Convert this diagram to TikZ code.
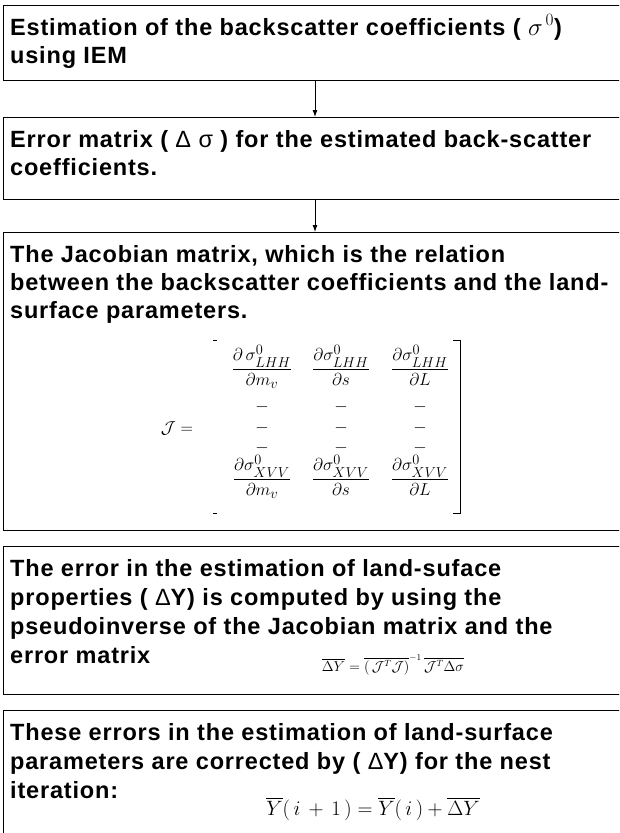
\documentclass[tikz,border=0pt]{standalone}
\usepackage{amsmath}
\usepackage{fontspec}
\setmainfont[LetterSpace=3.5]{Liberation Sans}
\usetikzlibrary{arrows.meta}
\begin{document}
\begin{tikzpicture}[x=1pt,y=-1pt,
  box/.style={draw=black, line width=1.1pt, rectangle, inner sep=0pt, anchor=north west, minimum width=640pt},
  txt/.style={anchor=base west, inner sep=0pt, font=\fontsize{23.5}{28}\selectfont\bfseries},
  arr/.style={-{Latex[length=7pt,width=5pt]}, line width=0.9pt},
  ent/.style={inner sep=0pt, font=\fontsize{19}{21}\selectfont},
  frm/.style={inner sep=0pt, anchor=base}]
\useasboundingbox (0,0) rectangle (619,833);
\clip (0,0) rectangle (619,833);
% boxes
\node[box, minimum height=75pt] (b1) at (3,5) {};
\node[box, minimum height=82pt] (b2) at (3,117) {};
\node[box, minimum height=298pt] (b3) at (3,232) {};
\node[box, minimum height=148pt] (b4) at (3,546) {};
\node[box, minimum height=150pt] (b5) at (3,710) {};
% arrows
\coordinate (ax) at (315,0);
\draw[arr] (b1.south -| ax) -- (b2.north -| ax);
\draw[arr] (b2.south -| ax) -- (b3.north -| ax);
% box 1
\node[txt] (t1a) at (10,35) {Estimation of the backscatter coefficients ( $\sigma^{\,0}$)};
\node[txt] (t1b) at (10,63) {using IEM};
% box 2
\node[txt] (t2a) at (10,147) {Error matrix ( {\mdseries Δ σ} ) for the estimated back-scatter};
\node[txt] (t2b) at (10,175) {coefficients.};
% box 3
\node[txt] (t3a) at (10,262) {The Jacobian matrix, which is the relation};
\node[txt] (t3b) at (10,290) {between the backscatter coefficients and the land-};
\node[txt] (t3c) at (10,318) {surface parameters.};
% matrix
\node[ent, anchor=center] (jeq) at (177,428) {$\mathcal{J} =$};
\node[ent, anchor=base] (m11) at (262,374) {$\dfrac{\partial\,\sigma^{0}_{LHH}}{\partial m_v}$};
\node[ent, anchor=base] (m12) at (341,374) {$\dfrac{\partial\sigma^{0}_{LHH}}{\partial s}$};
\node[ent, anchor=base] (m13) at (420,374) {$\dfrac{\partial\sigma^{0}_{LHH}}{\partial L}$};
\foreach \r/\yy in {2/407,3/428,4/448}{
  \node[ent] (m\r1) at (262,\yy) {$-$};
  \node[ent] (m\r2) at (341,\yy) {$-$};
  \node[ent] (m\r3) at (420,\yy) {$-$};
}
\node[ent, anchor=base] (m51) at (262,484) {$\dfrac{\partial\sigma^{0}_{XVV}}{\partial m_v}$};
\node[ent, anchor=base] (m52) at (341,484) {$\dfrac{\partial\sigma^{0}_{XVV}}{\partial s}$};
\node[ent, anchor=base] (m53) at (420,484) {$\dfrac{\partial\sigma^{0}_{XVV}}{\partial L}$};
\draw[line width=0.8pt] (453,340) -- (460,340) -- (460,513) -- (453,513);
\draw[line width=0.8pt] (213,340) -- (217,340);
\draw[line width=0.8pt] (213,513) -- (217,513);
% box 4
\node[txt] (t4a) at (10,576) {The error in the estimation of land-suface};
\node[txt] (t4b) at (10,605) {properties ( {\mdseries Δ}Y) is computed by using the};
\node[txt] (t4c) at (10,634) {pseudoinverse of the Jacobian matrix and the};
\node[txt] (t4d) at (10,663) {error matrix};
\node[frm, font=\fontsize{13.5}{15}\selectfont] (f1) at (393,671) {$\overline{\Delta Y} = \overline{(\,\mathcal{J}^{T}\mathcal{J})}^{-1}\,\overline{\mathcal{J}^{T}\Delta\sigma}$};
% box 5
\node[txt] (t5a) at (10,740) {These errors in the estimation of land-surface};
\node[txt] (t5b) at (10,769) {parameters are corrected by ( {\mdseries Δ}Y) for the nest};
\node[txt] (t5c) at (10,798) {iteration:};
\node[frm, font=\fontsize{20}{22}\selectfont] (f2) at (373,815) {$\overline{Y}(\,i\,+\,1\,) = \overline{Y}(\,i\,) + \overline{\Delta Y}$};
\end{tikzpicture}
\end{document}
